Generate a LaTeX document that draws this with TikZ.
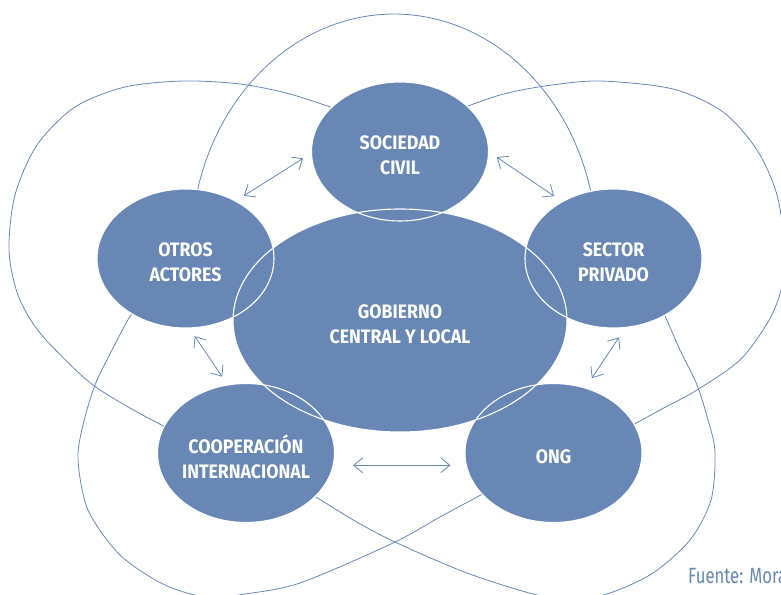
\documentclass[tikz,border=0pt]{standalone}
\usepackage{fontspec}
\setmainfont{Fira Sans}
\newfontfamily\actorfont[FakeStretch=0.91]{Fira Sans}
\newfontfamily\notefont[FakeStretch=0.76]{Fira Sans}
\usetikzlibrary{shapes.geometric, arrows.meta}

\definecolor{steel}{RGB}{104,135,181}

\tikzset{
    actor/.style={ellipse, fill=steel, inner sep=0pt, outer sep=0pt,
        minimum width=177pt, minimum height=139pt},
    actortext/.style={text=white, align=center, yshift=-4pt,
        font=\actorfont\bfseries\fontsize{19.5}{25}\selectfont},
    rim/.style={draw=white, line width=1.1pt},
    ring/.style={draw=steel, line width=0.8pt},
    link/.style={draw=steel, line width=0.8pt,
        {Straight Barb[length=9pt,width=15pt]}-{Straight Barb[length=9pt,width=15pt]},
        shorten <=10pt, shorten >=10pt}
}

\begin{document}
\begin{tikzpicture}[x=1pt, y=-1pt]

\path[use as bounding box] (0,0) rectangle (781,594);
\clip (0,0) rectangle (781,594);

% Big loops behind the circles
\draw[ring] plot[domain=8:172, samples=60]
    ({394+203*cos(\x)}, {249-235*sin(\x)});
\draw[ring] plot[smooth] coordinates {(345,112) (290,94) (240,84) (183,81)
    (125,87) (75,107) (37,145) (15,195) (9,250) (18,295) (40,333)
    (88,381) (130,408) (175,432)};
\draw[ring] plot[smooth] coordinates {(452,112) (500,95) (545,86) (600,81)
    (673,89) (723,112) (757,150) (777,195) (785,250) (781,290) (768,322)
    (740,360) (697,390) (660,410) (620,432)};
\draw[ring] plot[smooth] coordinates {(140,305) (129,318) (112,350) (95,385)
    (83,425) (78,460) (88,510) (120,555) (165,585) (210,598) (245,594)
    (300,583) (393,543) (440,517) (490,490)};
\draw[ring] plot[smooth] coordinates {(660,305) (666,318) (680,350) (697,385)
    (708,420) (715,452) (711,500) (690,540) (653,573) (610,593) (572,600)
    (533,594) (467,573) (397,543) (355,521) (305,490)};

% Centre
\node[actor,
    minimum width=334pt,
    minimum height=223pt,
    label={[actortext]center:{GOBIERNO\\CENTRAL Y LOCAL}}
] (actor0) at (400,320.5) {};

% Ring of actors
\node[actor,
    label={[actortext]center:{SOCIEDAD\\CIVIL}}
] (actor1) at (400,151.5) {};

\node[actor,
    label={[actortext]center:{SECTOR\\PRIVADO}}
] (actor2) at (613.5,258.5) {};

\node[actor,
    label={[actortext]center:{ONG}}
] (actor3) at (553.5,453) {};

\node[actor,
    label={[actortext]center:{COOPERACIÓN\\INTERNACIONAL}}
] (actor4) at (246,453) {};

\node[actor,
    label={[actortext]center:{OTROS\\ACTORES}}
] (actor5) at (185.5,258.5) {};

% White borders over the fills
\draw[rim] (actor0) ellipse [x radius=167, y radius=111.5];
\foreach \n in {1,...,5}
    \draw[rim] (actor\n) ellipse [x radius=88.5, y radius=69.5];

% Arrows
\draw[link] (actor5.49) -- (actor1.181);
\draw[link] (actor1.0) -- (actor2.132);
\draw[link] (actor5.273) -- (actor4.105);
\draw[link, shorten <=12pt, shorten >=12pt] (actor2.280) -- (actor3.64);
\draw[link, shorten <=20pt, shorten >=16pt] (actor4.352) -- (actor3.188);

% Source
\node[anchor=base west,
    inner sep=0pt,
    text=steel,
    font=\notefont\fontsize{22}{26}\selectfont
] (source) at (688,583) {Fuente: Mora};

\end{tikzpicture}
\end{document}
